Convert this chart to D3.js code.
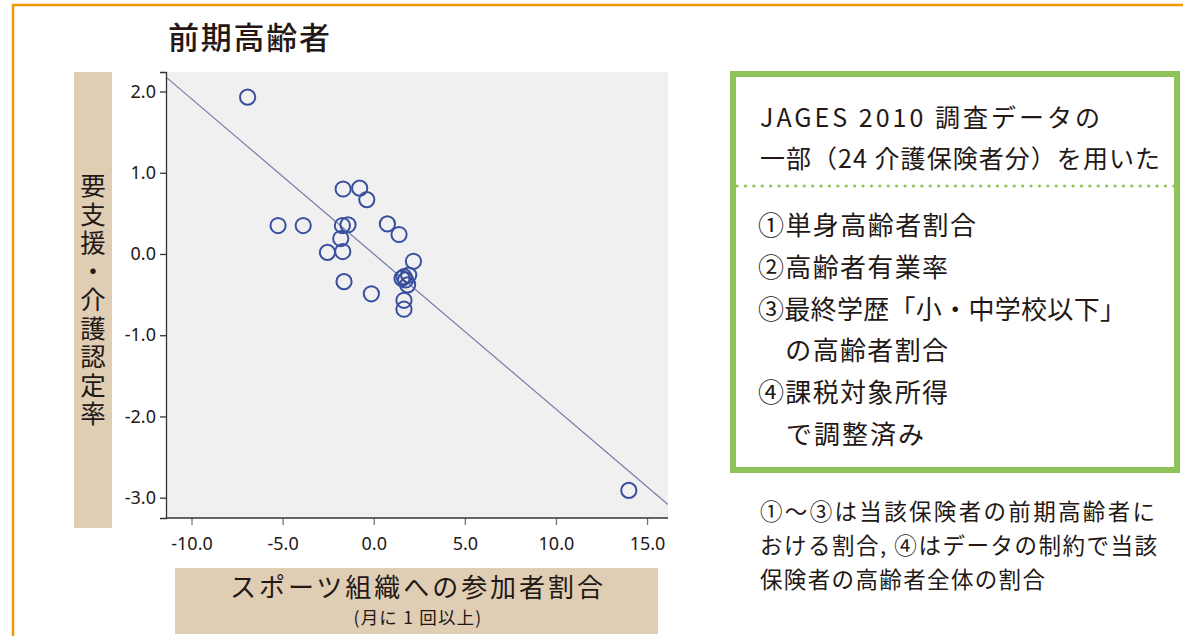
<!doctype html>
<html>
<head>
<meta charset="utf-8">
<script src="https://cdnjs.cloudflare.com/ajax/libs/d3/7.8.5/d3.min.js"></script>
<style>
  body { margin: 0; background: #fff; }
  svg { display: block; font-family: "Noto Sans CJK JP", "Noto Sans", sans-serif; }
</style>
</head>
<body>
<svg id="chart" width="1183" height="636"></svg>
<script>
// sport participation (x) vs certification rate (y), 24 insurers, standardized residuals
const sportRate = [-6.92, -1.68, -0.77, -0.38, -5.25, -3.87, -1.72, -1.41, 0.75, 1.39,
                   -1.81, -2.54, -1.70, 2.18, -1.63, -0.13, 1.66, 1.92, 1.75, 1.86,
                   1.55, 1.66, 1.66, 14.0];
const careRate  = [1.93, 0.80, 0.81, 0.67, 0.35, 0.35, 0.35, 0.36, 0.37, 0.24,
                   0.19, 0.02, 0.03, -0.09, -0.34, -0.49, -0.28, -0.26, -0.32, -0.38,
                   -0.30, -0.57, -0.68, -2.91];
const xTicks = [-10, -5, 0, 5, 10, 15];
const yTicks = [2, 1, 0, -1, -2, -3];
const fitSlope = -0.191, fitIntercept = 0.0;

const boxLines = ["JAGES 2010 調査データの", "一部（24 介護保険者分）を用いた"];
const boxWidths = [340, 400];
const adjustLines = ["①単身高齢者割合", "②高齢者有業率", "③最終学歴「小・中学校以下」",
                     "\u3000の高齢者割合", "④課税対象所得", "\u3000で調整済み"];
const adjustWidths = [218, 190, 368, 190, 190, 166];
const noteLines = ["①〜③は当該保険者の前期高齢者に", "おける割合, ④はデータの制約で当該",
                   "保険者の高齢者全体の割合"];
const noteWidths = [395, 397, 285];

const svg = d3.select("#chart");
const ink = "#231815";

// orange frame
svg.append("path")
  .attr("d", "M13,640 L13,5 L1190,5")
  .attr("fill", "none").attr("stroke", "#f39800").attr("stroke-width", 2.5);

svg.append("text").attr("x", 168).attr("y", 49)
  .attr("font-size", 31).attr("font-weight", 500).attr("fill", ink)
  .attr("textLength", 162).attr("lengthAdjust", "spacing")
  .text("前期高齢者");

// plot area
const x = d3.scaleLinear().domain([-11.4, 16.15]).range([166, 668]);
const y = d3.scaleLinear().domain([2.24, -3.25]).range([72, 518]);

svg.append("rect").attr("x", 166).attr("y", 72).attr("width", 502).attr("height", 446)
  .attr("fill", "#f0f0f0");

const clip = svg.append("clipPath").attr("id", "pc");
clip.append("rect").attr("x", 166).attr("y", 72).attr("width", 502).attr("height", 446);

const xs = d3.extent(x.domain());
svg.append("line").attr("clip-path", "url(#pc)")
  .attr("x1", x(xs[0])).attr("y1", y(fitIntercept + fitSlope * xs[0]))
  .attr("x2", x(xs[1])).attr("y2", y(fitIntercept + fitSlope * xs[1]))
  .attr("stroke", "#6e7aa6").attr("stroke-width", 1.2);

svg.append("g").selectAll("circle")
  .data(sportRate)
  .enter().append("circle")
  .attr("cx", d => x(d))
  .attr("cy", (d, i) => y(careRate[i]))
  .attr("r", 7.6)
  .attr("fill", "none").attr("stroke", "#3a4ea0").attr("stroke-width", 2);

const fmt = d => d3.format(".1f")(d).replace("−", "-");
const yAxis = svg.append("g").attr("transform", "translate(166,0)")
  .call(d3.axisLeft(y).tickValues(yTicks).tickFormat(fmt).tickSize(6).tickPadding(4));
const xAxis = svg.append("g").attr("transform", "translate(0,518)")
  .call(d3.axisBottom(x).tickValues(xTicks).tickFormat(fmt).tickSize(7).tickPadding(12));
xAxis.select(".domain").remove();
svg.append("line").attr("x1", 166).attr("x2", 668).attr("y1", 518).attr("y2", 518)
  .attr("stroke", "#333").attr("stroke-width", 1.3);
[xAxis, yAxis].forEach(g => {
  g.selectAll("text").attr("font-size", 18).attr("fill", ink)
    .attr("font-family", "'Noto Sans', sans-serif");
  g.selectAll("line,.domain").attr("stroke", "#333").attr("stroke-width", 1.3);
});
xAxis.selectAll("line").attr("stroke", "#777");

// y label
svg.append("rect").attr("x", 74).attr("y", 72).attr("width", 38).attr("height", 456).attr("fill", "#dfcdb4");
svg.append("text")
  .attr("x", 93).attr("y", 173)
  .style("writing-mode", "vertical-rl")
  .attr("font-size", 25.5).attr("letter-spacing", 3).attr("fill", ink)
  .text("要支援・介護認定率");

// x label
svg.append("rect").attr("x", 175).attr("y", 568).attr("width", 483).attr("height", 66).attr("fill", "#dfcdb4");
svg.append("text").attr("x", 230).attr("y", 597)
  .attr("font-size", 26).attr("fill", ink)
  .attr("textLength", 373).attr("lengthAdjust", "spacing")
  .text("スポーツ組織への参加者割合");
svg.append("text").attr("x", 418).attr("y", 624).attr("text-anchor", "middle")
  .attr("font-size", 17.5).attr("letter-spacing", 1.2).attr("fill", ink)
  .text("(月に 1 回以上)");

// right box
svg.append("rect").attr("x", 733).attr("y", 74).attr("width", 444).attr("height", 396)
  .attr("fill", "none").attr("stroke", "#8dc55a").attr("stroke-width", 6);
svg.append("line").attr("x1", 737).attr("x2", 1174).attr("y1", 186).attr("y2", 186)
  .attr("stroke", "#8dc55a").attr("stroke-width", 3.2)
  .attr("stroke-dasharray", "0.1 8.3").attr("stroke-linecap", "round");
svg.append("g").selectAll("text").data(boxLines).enter().append("text")
  .attr("x", 760).attr("y", (d, i) => 127 + i * 41)
  .attr("font-size", 25).attr("fill", ink)
  .attr("textLength", (d, i) => boxWidths[i]).attr("lengthAdjust", "spacing")
  .text(d => d);
svg.append("g").selectAll("text").data(adjustLines).enter().append("text")
  .attr("x", 758).attr("y", (d, i) => 235 + i * 41.8)
  .attr("font-size", 26).attr("fill", ink).attr("xml:space", "preserve")
  .attr("textLength", (d, i) => adjustWidths[i]).attr("lengthAdjust", "spacing")
  .text(d => d);

svg.append("g").selectAll("text").data(noteLines).enter().append("text")
  .attr("x", 760).attr("y", (d, i) => 520 + i * 34)
  .attr("font-size", 22.5).attr("fill", ink)
  .attr("textLength", (d, i) => noteWidths[i]).attr("lengthAdjust", "spacing")
  .text(d => d);
</script>
</body>
</html>
